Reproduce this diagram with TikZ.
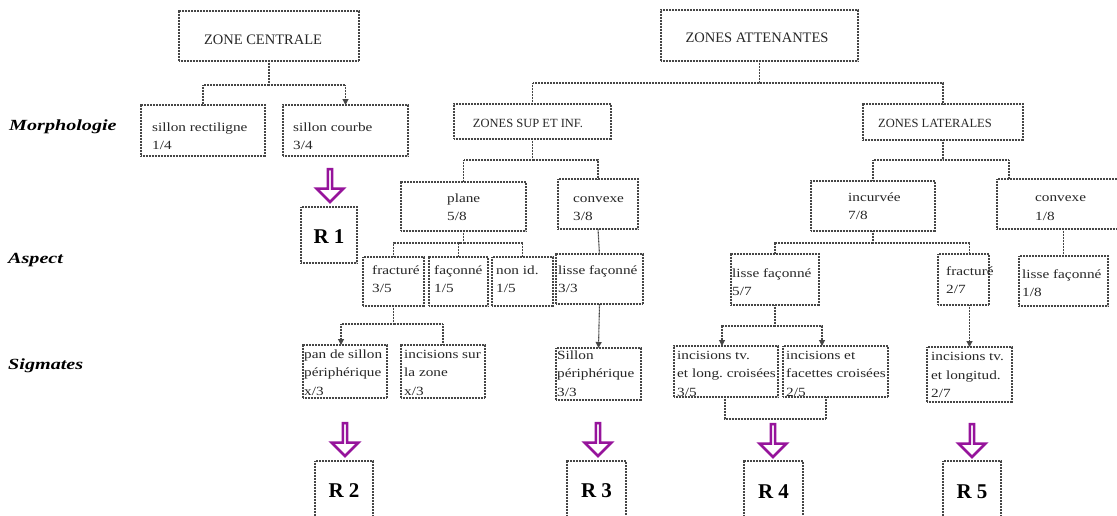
\documentclass[tikz,border=0pt]{standalone}
\usepackage{fontspec}
\setmainfont{Liberation Serif}
\newfontfamily\boxfont[FakeStretch=1.22]{Liberation Serif}
\newfontfamily\lblfont[FakeStretch=1.3]{Liberation Serif}
\usetikzlibrary{arrows.meta,shapes.arrows,calc}
\definecolor{purp}{RGB}{150,20,155}
\definecolor{lin}{RGB}{70,70,70}
\tikzset{
 bx/.style={draw=lin, line width=1.1pt, dash pattern=on 1pt off 0.5pt, inner sep=0pt, outer sep=0pt},
 conn/.style={draw=lin, line width=1.1pt, dash pattern=on 1pt off 0.5pt},
 arr/.style={conn, -{Triangle[width=6pt,length=6pt]}},
 btxt/.style={font=\boxfont\fontsize{12.5}{18.5}\selectfont, text=black!85, align=left, anchor=base west, inner sep=0pt},
 ctxt/.style={font=\fontsize{14.5}{16}\selectfont, text=black!85, inner sep=0pt},
 stxt/.style={font=\fontsize{12.5}{14}\selectfont, text=black!85, inner sep=0pt},
 lbl/.style={font=\lblfont\bfseries\itshape\fontsize{15.5}{17}\selectfont, anchor=west, inner sep=0pt},
 rtxt/.style={font=\bfseries\fontsize{21}{24}\selectfont, inner sep=0pt},
 parr/.style={single arrow, draw=purp, line width=2.6pt, fill=white, shape border rotate=270, minimum height=33pt, minimum width=27pt, single arrow head extend=7pt, inner sep=0pt},
}
\newcommand\bxn[5]{\node[bx, minimum width={#4-#2}, minimum height={#5-#3}] (#1) at ({(#2+#4)/2},{(#3+#5)/2}) {};}
\begin{document}
\begin{tikzpicture}[x=1pt,y=-1pt]
\useasboundingbox (0,0) rectangle (1117,515);
% boxes
\bxn{zc}{179}{11}{359}{61}
\bxn{za}{661}{10}{858}{61}
\bxn{sr}{141}{105}{265}{156}
\bxn{sc}{283}{105}{408}{156}
\bxn{r1}{301}{207}{357}{263}
\bxn{zs}{454}{104}{611}{139}
\bxn{zl}{863}{104}{1023}{140}
\bxn{pl}{401}{182}{526}{231}
\bxn{cva}{558}{179}{638}{229}
\bxn{inc}{811}{181}{935}{231}
\bxn{cvb}{997}{179}{1122}{229}
\bxn{fra}{363}{257}{424}{306}
\bxn{fa}{429}{257}{488}{306}
\bxn{ni}{492}{257}{553}{306}
\bxn{lfa}{556}{254}{643}{304}
\bxn{lfb}{731}{254}{819}{305}
\bxn{frb}{938}{254}{989}{305}
\bxn{lfc}{1019}{256}{1108}{306}
\bxn{pan}{303}{345}{387}{398}
\bxn{isz}{401}{345}{485}{398}
\bxn{sp}{556}{348}{641}{400}
\bxn{ita}{674}{346}{778}{397}
\bxn{ifc}{783}{346}{888}{397}
\bxn{itl}{927}{347}{1012}{402}
\bxn{r2}{315}{461}{373}{522}
\bxn{r3}{567}{461}{626}{522}
\bxn{r4}{744}{461}{803}{522}
\bxn{r5}{943}{461}{1001}{522}
% headings
\node[ctxt] (zct) at (263,40) {ZONE CENTRALE};
\node[ctxt] (zat) at (757,38) {ZONES ATTENANTES};
\node[stxt] (zst) at (528,123) {ZONES SUP ET INF.};
\node[stxt] (zlt) at (935,123) {ZONES LATERALES};
% box texts (anchor = baseline of last line)
\node[btxt] (srt) at (152,149.5) {sillon rectiligne\\1/4};
\node[btxt] (sct) at (293,149.5) {sillon courbe\\3/4};
\node[btxt] (plt) at (447,220.5) {plane\\5/8};
\node[btxt] (cvat) at (573,220.5) {convexe\\3/8};
\node[btxt] (inct) at (848,219.5) {incurvée\\7/8};
\node[btxt] (cvbt) at (1035,220) {convexe\\1/8};
\node[btxt] (frat) at (372,292.5) {fracturé\\3/5};
\node[btxt] (fat) at (434,292.5) {façonné\\1/5};
\node[btxt] (nit) at (496,292.5) {non id.\\1/5};
\node[btxt] (lfat) at (558,292.5) {lisse façonné\\3/3};
\node[btxt] (lfbt) at (732,295.5) {lisse façonné\\5/7};
\node[btxt] (frbt) at (946,293.5) {fracturé\\2/7};
\node[btxt] (lfct) at (1022,296.5) {lisse façonné\\1/8};
\node[btxt] (pant) at (304,395) {pan de sillon\\périphérique\\x/3};
\node[btxt] (iszt) at (404,395) {incisions sur\\la zone\\x/3};
\node[btxt] (spt) at (557,396) {Sillon\\périphérique\\3/3};
\node[btxt] (itat) at (677,396) {incisions tv.\\et long.\ croisées\\3/5};
\node[btxt] (ifct) at (786,396) {incisions et\\facettes croisées\\2/5};
\node[btxt] (itlt) at (931,397.5) {incisions tv.\\et longitud.\\2/7};
% row labels
\node[lbl] (lm) at (9,127) {Morphologie};
\node[lbl] (la) at (8,260) {Aspect};
\node[lbl] (ls) at (8,366) {Sigmates};
% R texts
\node[rtxt] (r1t) at ($(r1.north)+(0,30)$) {R 1};
\node[rtxt] (r2t) at ($(r2.north)+(0,30)$) {R 2};
\node[rtxt] (r3t) at ($(r3.north)+(0,30)$) {R 3};
\node[rtxt] (r4t) at ($(r4.north)+(0,31)$) {R 4};
\node[rtxt] (r5t) at ($(r5.north)+(0,31)$) {R 5};
% purple arrows
\node[parr] (p1) at (330,184.5) {};
\node[parr] (p2) at (345,438.5) {};
\node[parr] (p3) at (598,438.5) {};
\node[parr] (p4) at (773,439.5) {};
\node[parr] (p5) at (972,439.5) {};
% connectors
\draw[conn] (zc.south) -- (zc.south |- 0,85) -| (sr.north);
\draw[arr] (zc.south |- 0,85) -| (sc.north);
\draw[conn] (za.south) -- (za.south |- 0,83) -| (zs.north);
\draw[conn] (za.south |- 0,83) -| (zl.north);
\draw[conn] (zs.south) -- (zs.south |- 0,160) -| (pl.north);
\draw[conn] (zs.south |- 0,160) -| (cva.north);
\draw[conn] (zl.south) -- (zl.south |- 0,160) -| (inc.north);
\draw[conn] (zl.south |- 0,160) -| ($(cvb.north west)+(12,0)$);
\draw[conn] (pl.south) -- (pl.south |- 0,243) -| (fra.north);
\draw[conn] (pl.south |- 0,243) -| (fa.north);
\draw[conn] (pl.south |- 0,243) -| (ni.north);
\draw[conn] (cva.south) -- (lfa.north);
\draw[conn] (inc.south) -- (inc.south |- 0,243) -| (lfb.north);
\draw[conn] (inc.south |- 0,243) -| (frb.north -| itl.north);
\draw[conn] (lfc.north |- cvb.south) -- (lfc.north);
\draw[conn] (fra.south) -- (fra.south |- 0,324) -| (isz.north);
\draw[arr] (fra.south |- 0,324) -| ($(pan.north)+(-4,0)$);
\draw[arr] (lfa.south) -- (sp.north);
\draw[conn] (lfb.south) -- (lfb.south |- 0,326) coordinate (jb);
\draw[arr] (jb) -| ($(ita.north)+(-4,0)$);
\draw[arr] (jb) -| ($(ifc.north west)+(39,0)$);
\draw[arr] (frb.south -| itl.north) -- (itl.north);
\draw[conn] ($(ita.south)+(-1,0)$) -- ++(0,22) -| ($(ifc.south west)+(43,0)$);
\end{tikzpicture}
\end{document}
